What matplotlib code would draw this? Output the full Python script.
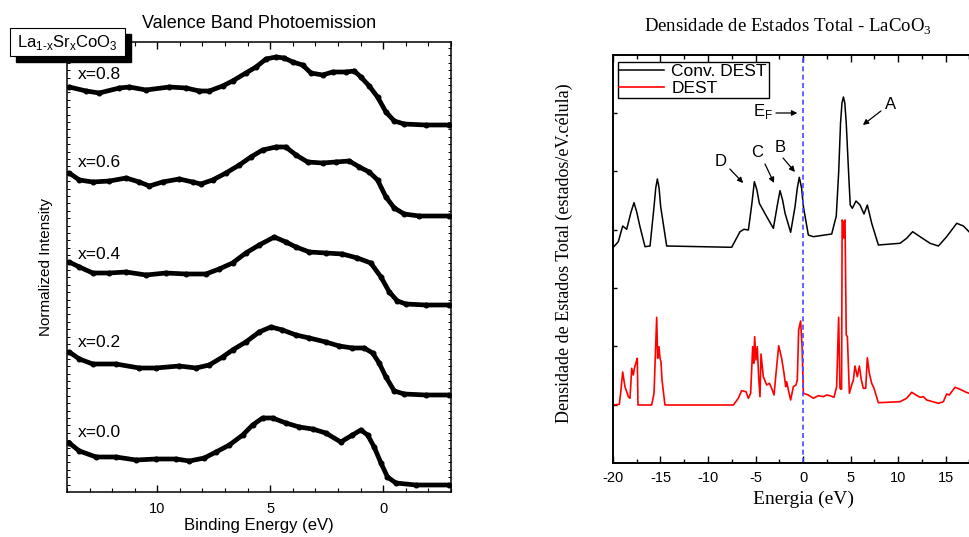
import numpy as np
import matplotlib
matplotlib.use('Agg')
import matplotlib.pyplot as plt
from matplotlib.patches import Rectangle
from matplotlib.ticker import MultipleLocator, FixedLocator

plt.rcParams['font.family'] = 'Liberation Sans'
plt.rcParams['mathtext.fontset'] = 'custom'
plt.rcParams['mathtext.rm'] = 'Liberation Sans'
plt.rcParams['axes.unicode_minus'] = False

# --- photoemission spectra (binding energy in eV, stacked intensity) ---
e_08 = [13.9, 13.15, 12.57, 11.68, 11.24, 10.5, 9.47, 8.73, 8.14, 7.7, 7.11, 6.67, 6.08, 5.63, 5.19, 4.75,
        4.38, 4.01, 3.57, 3.2, 2.68, 2.24, 1.65, 1.28, 0.99, 0.62, 0.25, -0.12, -0.49, -0.93, -1.88, -2.92]
i_08 = [405, 401, 399, 404, 405, 402, 405, 404, 401, 401, 406, 411, 419, 425, 433, 435,
        434, 430, 427, 419, 417, 420, 420, 421, 415, 406, 395, 380, 371, 368, 367, 367]

e_06 = [13.9, 13.45, 12.86, 12.12, 11.38, 10.8, 10.35, 9.77, 9.03, 8.44, 8.07, 7.55, 6.96, 6.37, 5.86, 5.34,
        4.75, 4.31, 3.86, 3.35, 2.68, 2.1, 1.5, 1.06, 0.62, 0.25, -0.12, -0.49, -0.93, -1.59, -2.92]
i_06 = [319, 312, 310, 311, 314, 310, 306, 310, 313, 310, 308, 312, 319, 327, 335, 342,
        345, 345, 337, 330, 329, 330, 331, 325, 320, 312, 295, 284, 278, 276, 276]

e_04 = [13.9, 13.45, 12.86, 12.12, 11.38, 10.5, 9.62, 8.73, 7.85, 7.26, 6.67, 6.08, 5.49, 4.82, 4.31, 3.86,
        3.27, 2.54, 1.81, 1.14, 0.55, 0.1, -0.27, -0.63, -1.0, -1.88, -2.92]
i_04 = [230, 225, 219, 219, 220, 217, 219, 218, 218, 223, 229, 239, 247, 255, 250, 245,
        240, 239, 238, 234, 229, 215, 200, 191, 188, 187, 187]

e_02 = [13.9, 13.45, 12.86, 11.83, 10.8, 10.06, 9.03, 8.29, 7.7, 7.11, 6.67, 6.08, 5.49, 4.97, 4.46, 3.86,
        3.27, 2.54, 1.95, 1.36, 0.84, 0.47, 0.18, -0.12, -0.49, -0.93, -1.88, -2.92]
i_02 = [140, 133, 128, 128, 124, 124, 126, 124, 127, 135, 142, 150, 160, 165, 162, 157,
        154, 150, 146, 144, 144, 139, 129, 115, 101, 98, 97, 97]

e_00 = [13.9, 13.45, 12.71, 11.83, 10.94, 10.06, 9.17, 8.58, 7.92, 7.4, 6.81, 6.22, 5.78, 5.34, 4.9, 4.31,
        3.72, 3.13, 2.54, 1.88, 1.36, 0.99, 0.69, 0.4, 0.1, -0.19, -0.56, -1.44, -2.92]
i_00 = [49, 41, 35, 35, 32, 33, 33, 31, 34, 40, 47, 57, 67, 74, 74, 69,
        65, 63, 59, 50, 57, 62, 57, 45, 29, 15, 9, 7, 7]

spectra = [('x=0.8', e_08, i_08, 417), ('x=0.6', e_06, i_06, 329), ('x=0.4', e_04, i_04, 237),
           ('x=0.2', e_02, i_02, 149), ('x=0.0', e_00, i_00, 59)]

# --- density of states, LaCoO3 (energy in eV) ---
e_conv = [-19.97, -19.44, -18.98, -18.56, -18.1, -17.79, -17.5, -17.16, -16.63, -16.1, -15.68, -15.5, -15.33,
          -15.15, -14.98, -14.35, -7.51, -6.63, -6.21, -5.75, -5.4, -5.12, -4.85, -4.6, -3.82, -3.12, -2.7,
          -2.42, -2.15, -1.89, -1.3, -0.84, -0.6, -0.39, -0.15, 0.04, 0.56, 1.09, 3.02, 3.5, 3.75, 3.95, 4.1,
          4.25, 4.4, 4.55, 4.8, 4.97, 5.19, 5.58, 6.0, 6.42, 6.77, 7.23, 7.93, 10.21, 10.91, 11.54, 12.32,
          13.37, 14.25, 15.12, 16.18, 16.88, 17.47]
dos_conv = [215.7, 221.3, 237, 233.7, 251, 260.3, 251, 236.3, 216.3, 217, 256.3, 275, 284,
            275, 256.3, 217, 215.7, 231.3, 233.7, 233, 258, 281.3, 273, 259.7, 246.3, 234.7, 258,
            272.3, 263, 249.7, 230.7, 256.3, 275, 285.7, 275, 256.3, 228, 226.3, 229, 247, 290, 340, 360,
            366, 360, 340, 290, 258, 254.7, 262, 258, 249, 258, 239.7, 218, 219.7, 224.7, 231.3, 226.3,
            219.7, 217, 226.3, 239.7, 237, 231.3]

e_dest = [-19.97, -19.33, -19.16, -18.98, -18.74, -18.38, -18.21, -18.03, -17.86, -17.75, -17.58, -17.44,
          -17.37, -15.93, -15.68, -15.51, -15.4, -15.3, -15.16, -15.05, -14.95, -14.84, -14.53, -7.33, -6.81,
          -6.46, -6.0, -5.75, -5.51, -5.3, -5.19, -5.09, -4.95, -4.81, -4.67, -4.53, -4.42, -4.18, -3.82,
          -3.54, -3.3, -3.05, -2.84, -2.56, -2.25, -2.0, -1.82, -1.72, -1.54, -1.3, -1.02, -0.74, -0.6,
          -0.46, -0.25, -0.1, 0.04, 0.56, 1.09, 1.61, 2.14, 2.49, 2.84, 3.26, 3.54, 3.75, 3.89, 4.0, 4.06,
          4.12, 4.2, 4.27, 4.34, 4.42, 4.55, 4.67, 4.88, 5.12, 5.3, 5.47, 5.72, 5.93, 6.14, 6.35, 6.6, 6.77,
          6.98, 7.23, 7.47, 7.93, 10.21, 10.91, 11.44, 11.89, 12.32, 12.67, 13.02, 14.25, 14.77, 15.12,
          15.4, 15.65, 16.0, 16.53, 17.05, 17.47]
dos_dest = [58, 58.7, 73, 91, 76.3, 66.3, 64.7, 94.7, 88, 94.7, 100.3, 104.7,
            58, 58, 69.7, 116.3, 145.7, 104.7, 116.3, 104.7, 101.3, 83, 58, 58, 64.7,
            72.3, 71.3, 64.7, 69.7, 116.3, 99.7, 126.3, 103, 116.3, 86.3, 66.3, 109, 86.3, 78,
            79.7, 74.7, 68, 89.7, 117.3, 104.7, 89.7, 76.3, 81.3, 73, 63, 76.3, 78, 83,
            133, 142, 116.3, 69.7, 68, 64.7, 67.3, 66.3, 68, 67.3, 65.7, 76.3, 145.7, 74.7, 73.7, 74,
            243, 241, 225, 241, 243, 128, 126.3, 69.7, 78, 83, 97, 86.3, 97, 83, 74.7, 74.7, 105.3,
            89.7, 79.7, 74.7, 60.3, 61.3, 64.7, 70.7, 68, 65.7, 66.3, 63, 59.7, 61.3, 69,
            68, 71.3, 75.7, 73.7, 71.3, 69.7]

fig = plt.figure(figsize=(9.69, 5.37), dpi=100)

# ---------------- left panel: valence band photoemission ----------------
ax1 = fig.add_axes([0.0691, 0.0838, 0.3963, 0.838])
for label, e, inten, ylab in spectra:
    ax1.plot(e, inten, color='black', lw=3.4, solid_capstyle='round', solid_joinstyle='round')
    ax1.plot(e, inten, 'o', color='black', ms=3.3)
    ax1.text(13.5, ylab, label, fontsize=12.5, ha='left', va='center')

ax1.set_xlim(14, -3)
ax1.set_ylim(0, 450)
ax1.xaxis.set_major_locator(MultipleLocator(5))
ax1.xaxis.set_minor_locator(MultipleLocator(1))
ax1.set_yticks(np.arange(7.4, 450, 7.4))
ax1.tick_params(axis='x', which='major', direction='in', top=True, length=5, width=1, labelsize=10.5, pad=7)
ax1.tick_params(axis='x', which='minor', direction='in', top=True, length=3, width=0.8)
ax1.tick_params(axis='y', direction='in', left=True, right=True, length=2.5, width=0.7, labelleft=False)
for s in ax1.spines.values():
    s.set_linewidth(1.1)
ax1.set_xlabel('Binding Energy (eV)', fontsize=12, va='center')
ax1.xaxis.set_label_coords(0.5, -0.075)
ax1.set_ylabel('Normalized Intensity', fontsize=11, labelpad=10)
ax1.set_title('Valence Band Photoemission', fontsize=13, pad=10)

# sample label box with drop shadow
fig.add_artist(Rectangle((16 / 969, 1 - 62 / 537), 115 / 969, 28 / 537, transform=fig.transFigure,
                         facecolor='black', edgecolor='black', zorder=5))
fig.add_artist(Rectangle((10 / 969, 1 - 56 / 537), 115 / 969, 28 / 537, transform=fig.transFigure,
                         facecolor='white', edgecolor='black', lw=0.8, zorder=6))
fig.text(67.5 / 969, 1 - 42 / 537,
         r'La$_{\mathdefault{1\text{-}x}}$Sr$_{\mathdefault{x}}$CoO$_{\mathdefault{3}}$',
         fontsize=12, ha='center', va='center', zorder=7)

# ---------------- right panel: density of states ----------------
ax2 = fig.add_axes([0.6326, 0.1378, 0.3922, 0.7598])
ax2.plot(e_conv, dos_conv, color='black', lw=1.1, label='Conv. DEST')
ax2.plot(e_dest, dos_dest, color='red', lw=1.2, label='DEST')
ax2.axvline(0, color='#4a4aff', lw=1.2, ls=(0, (3, 2)))

ax2.set_xlim(-20, 20)
ax2.set_ylim(0, 408)
ax2.xaxis.set_major_locator(FixedLocator(np.arange(-20, 16, 5)))
ax2.xaxis.set_minor_locator(MultipleLocator(2.5))
ax2.set_yticks(np.arange(58.3, 408, 58.3))
ax2.tick_params(axis='x', which='major', direction='in', top=True, length=5, width=1, labelsize=10.5, pad=6)
ax2.tick_params(axis='x', which='minor', direction='in', top=True, length=3, width=1)
ax2.tick_params(axis='y', direction='in', length=3, width=1, labelleft=False)
for s in ax2.spines.values():
    s.set_linewidth(1.4)

serif = 'Liberation Serif'
ax2.set_xlabel('Energia (eV)', fontsize=14, fontfamily=serif, labelpad=4)
ax2.set_ylabel('Densidade de Estados Total (estados/eV.célula)', fontsize=13, fontfamily=serif)
ax2.yaxis.set_label_coords(-0.105, 0.515)
fig.text(788 / 969, 1 - 27 / 537, r'Densidade de Estados Total - LaCoO$_{\mathdefault{3}}$',
         fontsize=13.5, fontfamily=serif, ha='center', va='center')

leg = ax2.legend(loc='upper left', bbox_to_anchor=(0.012, 0.982), fontsize=12.5, frameon=True,
                 fancybox=False, edgecolor='black', framealpha=1, borderaxespad=0, borderpad=0.1,
                 labelspacing=0.1, handlelength=2.6, handletextpad=0.4)
leg.get_frame().set_linewidth(1.0)

# peak labels
arrow = dict(arrowstyle='-|>', color='black', lw=0.9, mutation_scale=8, shrinkA=0, shrinkB=0)
ax2.annotate('', xy=(-0.6, 350), xytext=(-2.85, 350), arrowprops=arrow)
ax2.text(-3.2, 351, r'E$_{\mathdefault{F}}$', fontsize=12, ha='right', va='center')
ax2.annotate('', xy=(6.3, 338), xytext=(8.2, 352), arrowprops=arrow)
ax2.text(9.2, 358, 'A', fontsize=12, ha='center', va='center')
ax2.annotate('', xy=(-0.85, 291), xytext=(-2.1, 305), arrowprops=arrow)
ax2.text(-2.4, 315, 'B', fontsize=12, ha='center', va='center')
ax2.annotate('', xy=(-3.05, 280), xytext=(-4.0, 299), arrowprops=arrow)
ax2.text(-4.8, 310, 'C', fontsize=12, ha='center', va='center')
ax2.annotate('', xy=(-6.3, 280), xytext=(-7.7, 294), arrowprops=arrow)
ax2.text(-8.7, 301, 'D', fontsize=12, ha='center', va='center')

fig.savefig('out.png', dpi=100)
